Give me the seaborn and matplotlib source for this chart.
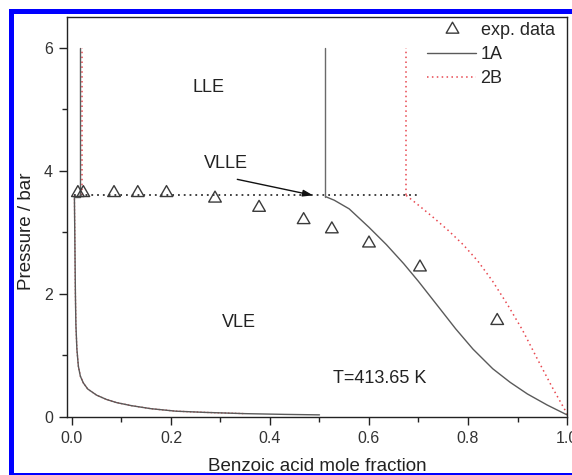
import numpy as np
import pandas as pd
import matplotlib
matplotlib.use("Agg")
import matplotlib.pyplot as plt
from matplotlib.patches import Rectangle
from matplotlib.path import Path
from matplotlib.lines import Line2D
from matplotlib.ticker import MultipleLocator
import seaborn as sns

# Experimental bubble-point data (benzoic acid mole fraction, pressure / bar)
exp_x = [0.012, 0.023, 0.085, 0.133, 0.191, 0.289, 0.378, 0.468, 0.525, 0.600, 0.703, 0.859]
exp_p = [3.64, 3.64, 3.64, 3.64, 3.64, 3.55, 3.40, 3.20, 3.05, 2.82, 2.43, 1.56]

# Model 1A: vapour branch, liquid branch, LLE boundaries
a1_vap_x = [0.005, 0.006, 0.007, 0.008, 0.010, 0.013, 0.017, 0.023, 0.032, 0.05, 0.07, 0.09,
            0.12, 0.16, 0.21, 0.27, 0.35, 0.43, 0.50]
a1_vap_p = [3.58, 2.8, 2.0, 1.5, 1.1, 0.82, 0.66, 0.55, 0.45, 0.35, 0.28, 0.23,
            0.18, 0.13, 0.09, 0.07, 0.05, 0.038, 0.03]
a1_liq_x = [0.512, 0.53, 0.56, 0.60, 0.635, 0.67, 0.70, 0.74, 0.775, 0.81, 0.85, 0.885,
            0.92, 0.96, 1.0]
a1_liq_p = [3.58, 3.52, 3.38, 3.08, 2.80, 2.49, 2.20, 1.79, 1.43, 1.10, 0.78, 0.56,
            0.37, 0.19, 0.03]
a1_lle_left_x = [0.005, 0.017, 0.017]
a1_lle_left_p = [3.58, 3.58, 6.0]
a1_lle_right_x = [0.512, 0.512]
a1_lle_right_p = [3.58, 6.0]

# Model 2B
b2_vap_x = [0.005, 0.006, 0.007, 0.008, 0.010, 0.013, 0.017, 0.023, 0.032, 0.05, 0.07, 0.09,
            0.12, 0.16, 0.21, 0.27, 0.35]
b2_vap_p = [3.60, 2.8, 2.0, 1.5, 1.1, 0.82, 0.66, 0.55, 0.45, 0.35, 0.28, 0.23,
            0.18, 0.13, 0.09, 0.07, 0.05]
b2_liq_x = [0.675, 0.70, 0.73, 0.76, 0.79, 0.82, 0.85, 0.88, 0.91, 0.94, 0.97, 1.0]
b2_liq_p = [3.60, 3.44, 3.24, 3.03, 2.80, 2.53, 2.20, 1.82, 1.41, 0.94, 0.48, 0.05]
b2_lle_left_x = [0.020, 0.020]
b2_lle_left_p = [3.60, 6.0]
b2_lle_right_x = [0.675, 0.675]
b2_lle_right_p = [3.60, 6.0]

# Three-phase line
vlle_x = [0.005, 0.70]
vlle_p = [3.60, 3.60]

sns.set_style("ticks")
plt.rcParams["font.family"] = ["Liberation Sans", "DejaVu Sans"]

fig = plt.figure(figsize=(5.72, 4.75), dpi=100)
ax = fig.add_axes([0.1171, 0.1227, 0.8742, 0.8415])

gray = "#5a5a5a"
red = "#e8474f"
dots = (0, (1, 2.2))


def draw(x, p, **kw):
    df = pd.DataFrame({"x": x, "p": p})
    sns.lineplot(data=df, x="x", y="p", sort=False, estimator=None, ax=ax, **kw)


# 2B (red dotted)
draw(b2_vap_x, b2_vap_p, color=red, lw=1.0, linestyle=(0, (1, 1.5)))
draw(b2_liq_x, b2_liq_p, color=red, lw=1.1, linestyle=dots)
draw(b2_lle_left_x, b2_lle_left_p, color=red, lw=1.1, linestyle=dots)
draw(b2_lle_right_x, b2_lle_right_p, color=red, lw=1.1, linestyle=dots)

# VLLE line
draw(vlle_x, vlle_p, color="#333333", lw=1.3, linestyle=dots)

# 1A (solid gray)
draw(a1_vap_x, a1_vap_p, color=gray, lw=1.0)
draw(a1_liq_x, a1_liq_p, color=gray, lw=1.0)
draw(a1_lle_left_x, a1_lle_left_p, color=gray, lw=1.0)
draw(a1_lle_right_x, a1_lle_right_p, color="#6a6a6a", lw=1.0)

# Experimental points as open equilateral triangles
tri = Path([(-0.5, -0.289), (0.5, -0.289), (0.0, 0.577), (-0.5, -0.289)],
           [Path.MOVETO, Path.LINETO, Path.LINETO, Path.CLOSEPOLY])
sns.scatterplot(x=exp_x, y=exp_p, marker=tri, s=110, facecolors="none",
                edgecolors="#3a3a3a", linewidths=1.0, ax=ax, zorder=5)

ax.set_xlim(-0.01, 1.0)
ax.set_ylim(0, 6.5)
ax.xaxis.set_minor_locator(MultipleLocator(0.1))
ax.yaxis.set_minor_locator(MultipleLocator(1))
ax.set_xticks([0.0, 0.2, 0.4, 0.6, 0.8, 1.0])
ax.set_xticklabels(["0.0", "0.2", "0.4", "0.6", "0.8", "1.0"])
ax.set_yticks([0, 2, 4, 6])
ax.set_yticklabels(["0", "2", "4", "6"])
ax.tick_params(which="major", direction="out", length=6, width=1.0, color="#222222",
               labelsize=11.5, labelcolor="#333333", pad=4)
ax.tick_params(which="minor", direction="out", length=3.5, width=1.0, color="#222222")
for s in ax.spines.values():
    s.set_visible(True)
    s.set_color("#222222")
    s.set_linewidth(1.0)

ax.set_xlabel("Benzoic acid mole fraction", fontsize=13.5, color="#222222")
ax.set_ylabel("Pressure / bar", fontsize=13.5, color="#222222")
ax.xaxis.set_label_coords(0.5, -0.103)
ax.yaxis.set_label_coords(-0.063, 0.465)

# Region labels
txt = dict(fontsize=13, color="#222222", ha="center", va="center")
ax.text(0.275, 5.35, "LLE", **txt)
ax.text(0.311, 4.12, "VLLE", **txt)
ax.text(0.337, 1.53, "VLE", **txt)
ax.text(0.621, 0.62, "T=413.65 K", **txt)
ax.annotate("", xy=(0.487, 3.60), xytext=(0.334, 3.86),
            arrowprops=dict(arrowstyle="-|>,head_length=0.6,head_width=0.2",
                            color="#111111", lw=1.0, shrinkA=0, shrinkB=0))

# Legend
handles = [
    Line2D([], [], marker=tri, markersize=10.5, markerfacecolor="none",
           markeredgecolor="#3a3a3a", linestyle="none"),
    Line2D([], [], color=gray, lw=1.0),
    Line2D([], [], color=red, lw=1.1, linestyle=dots),
]
ax.legend(handles, ["exp. data", "1A", "2B"], loc="upper right", frameon=False,
          fontsize=13, handlelength=2.7, handletextpad=0.25, labelspacing=0.38,
          borderaxespad=0.1, borderpad=0.2, bbox_to_anchor=(0.986, 1.0))

# Blue frame around the figure
fig.patches.append(Rectangle((0.0201, -0.001), 0.994, 0.9768, transform=fig.transFigure,
                             fill=False, edgecolor="#0000ff", lw=3.6, clip_on=False))

fig.savefig("out.png", dpi=100)
